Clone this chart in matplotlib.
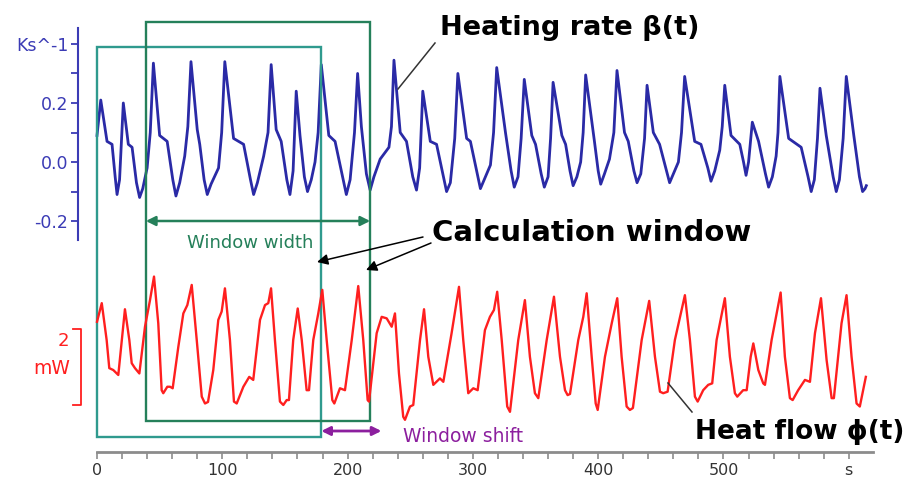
import matplotlib
matplotlib.use("Agg")
import matplotlib.pyplot as plt
from matplotlib.patches import Rectangle, FancyArrowPatch
from matplotlib.lines import Line2D
from matplotlib.ticker import FixedLocator, MultipleLocator
from matplotlib.transforms import blended_transform_factory

# heating rate beta(t): (time in s, rate in K/s)
heating_rate = [
    (0, 0.09), (3, 0.21), (8, 0.07), (12, 0.06), (14.5, -0.05), (16, -0.11), (18, -0.06),
    (21, 0.20), (25, 0.06), (28, 0.05), (31.5, -0.07), (34, -0.12), (36.5, -0.09), (40, -0.02),
    (42.5, 0.10), (45, 0.335), (50, 0.09), (56, 0.07), (60.5, -0.06), (63, -0.115), (66, -0.07),
    (70, 0.02), (72.5, 0.12), (75, 0.34), (80, 0.11), (82, 0.06), (85.5, -0.06), (88, -0.11),
    (91, -0.075), (97, -0.02), (99.5, 0.10), (102, 0.34), (109, 0.08), (117, 0.06), (122.5, -0.06),
    (125, -0.11), (128, -0.07), (133, 0.02), (136.5, 0.10), (139, 0.33), (143, 0.11), (147, 0.07),
    (151.5, -0.06), (154, -0.11), (156.5, -0.03), (159, 0.24), (162, 0.09), (165.5, -0.05),
    (168, -0.10), (171, -0.06), (174, 0.0), (176.5, 0.10), (179, 0.33), (185, 0.09), (190, 0.07),
    (196.5, -0.06), (199, -0.11), (202, -0.06), (205.5, 0.10), (208, 0.30), (211, 0.12),
    (215, -0.04), (218, -0.095), (221, -0.05), (226, 0.01), (233, 0.05), (235, 0.12), (237, 0.345),
    (242, 0.10), (247, 0.07), (252, -0.05), (255, -0.095), (257.5, -0.02), (260, 0.24), (266, 0.07),
    (271, 0.06), (276.5, -0.05), (279, -0.10), (282, -0.07), (285.5, 0.08), (288, 0.30), (295, 0.08),
    (298, 0.07), (303.5, -0.04), (306, -0.09), (309, -0.06), (314, -0.01), (316.5, 0.10), (319, 0.32),
    (326, 0.10), (330.5, -0.03), (333, -0.085), (336, -0.05), (338.5, 0.08), (341, 0.28), (347, 0.09),
    (350, 0.06), (354.5, -0.04), (357, -0.085), (360, -0.05), (362, 0.08), (364, 0.27), (371, 0.09),
    (374, 0.06), (377.5, -0.03), (380, -0.08), (383, -0.05), (386, 0.0), (388, 0.10), (390, 0.295),
    (397, 0.07), (400, -0.03), (402, -0.075), (405, -0.04), (409, 0.01), (412.5, 0.10), (415, 0.31),
    (421, 0.10), (424, 0.07), (428.5, -0.03), (431, -0.07), (434, -0.04), (437, 0.08), (439, 0.26),
    (444, 0.10), (449, 0.06), (454.5, -0.03), (457, -0.07), (460, -0.04), (464, 0.0), (466.5, 0.10),
    (469, 0.29), (477, 0.07), (482, 0.06), (487.5, -0.02), (490, -0.065), (493, -0.03), (497, 0.04),
    (499, 0.12), (501, 0.26), (506, 0.09), (513, 0.06), (516, 0.0), (518, -0.045), (520, 0.0),
    (523, 0.135), (528, 0.07), (533.5, -0.04), (536, -0.085), (539, -0.05), (542, 0.02), (543.5, 0.10),
    (545, 0.29), (552, 0.08), (562, 0.05), (567.5, -0.05), (570, -0.10), (572.5, -0.06), (575, 0.08),
    (577, 0.25), (582, 0.09), (587.5, -0.05), (590, -0.10), (592.5, -0.06), (595.5, 0.08), (598, 0.29),
    (604, 0.09), (608.5, -0.05), (611, -0.10), (613, -0.09), (614, -0.08),
]

# heat flow phi(t): (time in s, heat flow in mW, arbitrary zero)
heat_flow = [
    (0, 2.19), (3.8, 2.68), (7.7, 1.71), (9.8, 0.97), (13, 0.92), (17, 0.79), (22.3, 2.52),
    (25.8, 1.71), (27.7, 1.10), (30.3, 0.97), (33.8, 0.83), (38.3, 2.06), (42.3, 2.76), (45.5, 3.38),
    (48.9, 2.15), (51.6, 0.39), (52.9, 0.31), (56.1, 0.48), (58.3, 0.48), (60.4, 0.44), (64.9, 1.53),
    (68.9, 2.41), (72.1, 2.63), (75.6, 3.16), (79.6, 1.71), (83.6, 0.22), (86.2, 0.04), (88.6, 0.08),
    (92.8, 0.92), (96.8, 2.24), (99.5, 2.46), (102.1, 3.07), (106.1, 1.71), (109.3, 0.09),
    (111.5, 0.04), (116.8, 0.48), (121.5, 0.74), (124.7, 0.66), (130.1, 2.24), (134.1, 2.63),
    (136.7, 2.68), (138.9, 3.07), (142, 1.71), (146, 0.09), (148.7, 0.0), (151.4, 0.13), (153.2, 0.13),
    (156.6, 1.71), (160.2, 2.54), (163.4, 1.71), (167.3, 0.39), (169.2, 0.39), (172.6, 1.71),
    (176.6, 2.41), (179.8, 3.03), (183.3, 1.71), (187.8, 0.13), (189.4, 0.04), (193.9, 0.44),
    (197.9, 0.39), (203.3, 1.71), (208.5, 3.13), (212.5, 1.71), (216, 0.13), (217.1, 0.09),
    (223.2, 1.89), (227.2, 2.32), (231.2, 2.28), (235.2, 2.06), (237.8, 2.41), (241, 0.83),
    (244.4, -0.31), (245.8, -0.39), (249.8, -0.04), (252.4, 0.0), (257.8, 1.71), (261, 2.52),
    (264.4, 1.27), (268.4, 0.53), (273.7, 0.70), (276.4, 0.61), (283, 1.89), (288.9, 3.11),
    (292.3, 1.71), (296.3, 0.31), (300.3, 0.44), (303.8, 0.39), (309.6, 1.97), (313.6, 2.32),
    (316.8, 2.50), (319.4, 2.98), (323, 1.71), (327.4, -0.04), (329.6, -0.18), (336.2, 1.71),
    (341.5, 2.76), (345.5, 1.27), (349.5, 0.31), (352.2, 0.18), (358.9, 1.71), (364.7, 2.85),
    (369.5, 1.27), (373.5, 0.39), (375.6, 0.26), (377.5, 0.29), (384.1, 1.71), (388.1, 2.32),
    (390.8, 2.94), (394.8, 1.27), (398, 0.04), (399.6, -0.13), (405.4, 1.27), (410.8, 2.15),
    (415.2, 2.81), (418.7, 1.27), (422.7, -0.04), (425.3, -0.13), (427.7, -0.08), (434.7, 1.71),
    (440.7, 2.74), (445.3, 1.27), (449.3, 0.35), (451.9, 0.31), (455.4, 0.35), (461.2, 1.71),
    (469.2, 2.89), (473.2, 1.71), (477.2, 0.22), (479.4, 0.09), (483.8, 0.39), (487.8, 0.53),
    (491, 0.57), (494.5, 1.71), (501.1, 2.81), (505.1, 1.27), (509.1, 0.31), (511, 0.22),
    (515.7, 0.39), (518.5, 0.39), (521.7, 1.27), (523.8, 1.62), (527.8, 0.92), (531.7, 0.57),
    (533.1, 0.53), (538.4, 1.71), (542.4, 2.41), (545.6, 2.96), (549, 1.27), (553, 0.18),
    (555.2, 0.13), (559.6, 0.39), (565, 0.66), (569, 0.61), (573, 1.89), (577.8, 2.81), (582.3, 1.18),
    (586.3, 0.18), (588.1, 0.18), (594.2, 2.15), (598.2, 2.89), (602.2, 1.27), (606.2, 0.04),
    (608.8, -0.04), (613.6, 0.74),
]

window_width = 179   # s
window_shift = 39    # s
scale_bar = 2        # mW

beta_ticks = [-0.2, 0.0, 0.2, 0.4]
beta_ticklabels = ["-0.2", "0.0", "0.2", "Ks^-1"]
beta_minor = [-0.1, 0.1, 0.3]
time_ticks = [0, 100, 200, 300, 400, 500, 600]
time_ticklabels = ["0", "100", "200", "300", "400", "500", "s"]

BLUE = "#2a2aa6"
BLUE_AX = "#3b3bb5"
RED = "#ff1f1f"
TEAL = "#2f9a8e"
GREEN = "#25805a"
PURPLE = "#8c1f9e"
GRAY = "#8c8c8c"

plt.rcParams["font.family"] = ["DejaVu Sans"]

W, H = 909, 495
fig = plt.figure(figsize=(W / 100, H / 100), dpi=100)
fig.patch.set_facecolor("white")


def fx(px):
    return px / W


def fy(py):
    return 1 - py / H


x0, x1 = fx(97), fx(872.6)
t_max = 619

# upper panel: heating rate
ax_b = fig.add_axes([x0, fy(240), x1 - x0, fy(28) - fy(240)])
ax_b.patch.set_visible(False)
ax_b.set_xlim(0, t_max)
ax_b.set_ylim(-0.264, 0.454)
bt, bv = zip(*heating_rate)
ax_b.plot(bt, bv, color=BLUE, lw=2.0, solid_joinstyle="round", clip_on=False, zorder=3)
for s in ("top", "right", "bottom"):
    ax_b.spines[s].set_visible(False)
ax_b.spines["left"].set_position(("outward", 13.7))
ax_b.spines["left"].set_color(BLUE_AX)
ax_b.spines["left"].set_linewidth(1.5)
ax_b.set_xticks([])
ax_b.yaxis.set_major_locator(FixedLocator(beta_ticks))
ax_b.yaxis.set_minor_locator(FixedLocator(beta_minor))
ax_b.set_yticklabels(beta_ticklabels)
ax_b.tick_params(axis="y", which="both", colors=BLUE_AX, length=5, width=1.3,
                 labelsize=12.5, pad=2)

# lower panel: heat flow and time axis
ax_r = fig.add_axes([x0, fy(452), x1 - x0, fy(250) - fy(452)])
ax_r.patch.set_visible(False)
ax_r.set_xlim(0, t_max)
ax_r.set_ylim(-1.237, 4.079)
rt, rv = zip(*heat_flow)
ax_r.plot(rt, rv, color=RED, lw=1.7, solid_joinstyle="round", clip_on=False, zorder=3)
for s in ("top", "right", "left"):
    ax_r.spines[s].set_visible(False)
ax_r.spines["bottom"].set_color(GRAY)
ax_r.spines["bottom"].set_linewidth(2)
ax_r.set_yticks([])
ax_r.xaxis.set_major_locator(FixedLocator(time_ticks))
ax_r.set_xticklabels(time_ticklabels)
ax_r.xaxis.set_minor_locator(MultipleLocator(20))
ax_r.tick_params(axis="x", which="both", colors=GRAY, length=5, width=1.2,
                 labelsize=11.5, labelcolor="#333333", pad=3)

# 2 mW scale bar
bar_tr = blended_transform_factory(ax_r.transAxes, ax_r.transData)
bx, bx_tick = (81 - 97) / (872.6 - 97), (73 - 97) / (872.6 - 97)
ax_r.plot([bx_tick, bx, bx, bx_tick], [0, 0, scale_bar, scale_bar], color=RED, lw=1.3,
          transform=bar_tr, clip_on=False)
fig.text(fx(69), fy(341), str(scale_bar), color=RED, fontsize=13, ha="right", va="center")
fig.text(fx(70), fy(369), "mW", color=RED, fontsize=13.5, ha="right", va="center")

# calculation windows: time in data units, height in figure units
tr = blended_transform_factory(ax_b.transData, fig.transFigure)
ax_b.add_patch(Rectangle((0, fy(437)), window_width, fy(47) - fy(437), transform=tr,
                         fill=False, ec=TEAL, lw=1.7, clip_on=False, zorder=4))
ax_b.add_patch(Rectangle((window_shift, fy(421)), window_width, fy(22) - fy(421), transform=tr,
                         fill=False, ec=GREEN, lw=1.7, clip_on=False, zorder=4))

ax_b.annotate("", xy=(window_shift, fy(221)), xytext=(window_shift + window_width, fy(221)),
              xycoords=tr, textcoords=tr,
              arrowprops=dict(arrowstyle="<|-|>", color=GREEN, lw=1.8, mutation_scale=14,
                              shrinkA=0, shrinkB=0), zorder=5)
fig.text(fx(187), fy(243), "Window width", color=GREEN, fontsize=13, va="center")

ax_b.annotate("", xy=(window_width, fy(431)), xytext=(window_width + 48, fy(431)),
              xycoords=tr, textcoords=tr,
              arrowprops=dict(arrowstyle="<|-|>", color=PURPLE, lw=2, mutation_scale=13,
                              shrinkA=0, shrinkB=0), zorder=5)
fig.text(fx(403), fy(437), "Window shift", color=PURPLE, fontsize=13.5, va="center")

# labels with leaders
fig.text(fx(440), fy(28), "Heating rate β(t)", fontsize=19.5, fontweight="bold", va="center")
fig.add_artist(Line2D([fx(435), fx(398)], [fy(43), fy(89)], color="#333333", lw=1.1))

fig.text(fx(432), fy(233), "Calculation window", fontsize=21, fontweight="bold", va="center")
for tail, head in (((423, 237), (317, 262)), ((431, 243), (366, 270))):
    fig.add_artist(FancyArrowPatch(
        (fx(tail[0]), fy(tail[1])), (fx(head[0]), fy(head[1])), transform=fig.transFigure,
        arrowstyle="-|>", mutation_scale=16, color="black", lw=1.1, shrinkA=0, shrinkB=0))

fig.text(fx(695), fy(432), "Heat flow ϕ(t)", fontsize=19, fontweight="bold", va="center")
fig.add_artist(Line2D([fx(668), fx(692)], [fy(383), fy(412)], color="#333333", lw=1.1))

fig.savefig("out.png", dpi=100, facecolor="white")
